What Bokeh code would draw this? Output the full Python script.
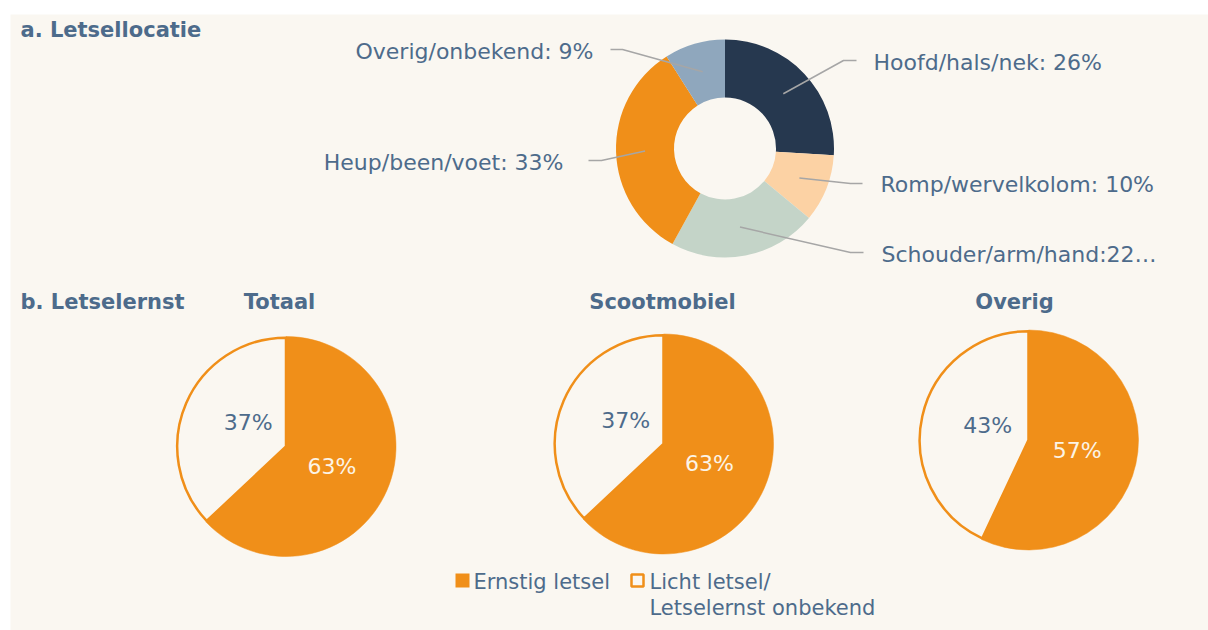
import math
from bokeh.plotting import figure
from bokeh.models import Range1d
from bokeh.core.properties import value
from bokeh.embed import file_html
from bokeh.resources import INLINE

# ---------------- data ----------------
loc_names = ["Hoofd/hals/nek", "Romp/wervelkolom", "Schouder/arm/hand", "Heup/been/voet", "Overig/onbekend"]
loc_pct = [26, 10, 22, 33, 9]
loc_labels = ["Hoofd/hals/nek: 26%", "Romp/wervelkolom: 10%", "Schouder/arm/hand:22\u2026",
              "Heup/been/voet: 33%", "Overig/onbekend: 9%"]
loc_colors = ["#26384f", "#fcd2a4", "#c4d4c8", "#f08f19", "#8fa7bd"]

groups = ["Totaal", "Scootmobiel", "Overig"]
ernstig = [63, 63, 57]
licht = [37, 37, 43]
legend_labels = ["Ernstig letsel", "Licht letsel/", "Letselernst onbekend"]

title_a = "a. Letsellocatie"
title_b = "b. Letselernst"

# ---------------- styles / layout ----------------
BG = "#faf7f1"
TXT = "#4d6b8b"
ORANGE = "#f08f19"
LEAD = "#a6a6a6"
FONT = value("DejaVu Sans")
FS = "22px"
FS_LEG = "21px"
FS_B = "21px"

W, H = 1208, 630
def Y(img_y):
    return 630 - img_y

p = figure(width=W, height=H, output_backend="svg", toolbar_location=None,
           x_range=Range1d(0, 1208), y_range=Range1d(0, 630), min_border=0)
p.axis.visible = False
p.grid.visible = False
p.outline_line_color = None
p.background_fill_color = "white"
p.border_fill_color = "white"

# cream panel
p.quad(left=10, right=1208, top=Y(14), bottom=Y(630), fill_color=BG, line_color=None)

# ---------------- donut ----------------
cx, cy = 724.5, 148
r_in, r_out = 51, 109
total = sum(loc_pct)
starts, ends, mids = [], [], []
cum = 0
for v in loc_pct:
    a0 = math.pi / 2 - 2 * math.pi * cum / total
    cum += v
    a1 = math.pi / 2 - 2 * math.pi * cum / total
    starts.append(a1)
    ends.append(a0)
    mids.append((a0 + a1) / 2)

p.annular_wedge(x=cx, y=Y(cy), inner_radius=r_in, outer_radius=r_out,
                start_angle=starts, end_angle=ends, direction="anticlock",
                fill_color=loc_colors, line_color=None)

# leader lines: elbow / end / label anchor (image coords)
elbows = [(843, 60), (850, 183), (850, 252), (601, 160), (622, 49)]
line_ends = [(856, 60), (862, 183), (863, 252), (588, 160), (610, 49)]
anchors = [(873, 62, "left"), (880, 184, "left"), (881, 254, "left"),
           (563, 162, "right"), (593, 51, "right")]
r_mid = (r_in + r_out) / 2
xs, ys = [], []
for m, e, f in zip(mids, elbows, line_ends):
    sx = cx + r_mid * math.cos(m)
    sy = Y(cy) + r_mid * math.sin(m)
    xs.append([sx, e[0], f[0]])
    ys.append([sy, Y(e[1]), Y(f[1])])
p.multi_line(xs=xs, ys=ys, line_color=LEAD, line_width=1.5)

for lab, (ax, ay, al) in zip(loc_labels, anchors):
    p.text(x=[ax], y=[Y(ay)], text=[lab], text_font=FONT, text_font_size=FS,
           text_color=TXT, text_align=al, text_baseline="middle")

# ---------------- section titles ----------------
p.text(x=[20], y=[Y(29)], text=[title_a], text_font=FONT, text_font_size=FS_B,
       text_font_style="bold", text_color=TXT, text_align="left", text_baseline="middle")
p.text(x=[20], y=[Y(301)], text=[title_b], text_font=FONT, text_font_size=FS_B,
       text_font_style="bold", text_color=TXT, text_align="left", text_baseline="middle")

# ---------------- three pies ----------------
pie_centers = [(285.5, 446), (663, 443.5), (1028, 439.5)]
pie_r = 110
title_x = [279, 662, 1014]
for g, e_val, l_val, (px, py), tx in zip(groups, ernstig, licht, pie_centers, title_x):
    tot = e_val + l_val
    a0 = math.pi / 2
    a1 = math.pi / 2 - 2 * math.pi * e_val / tot
    a2 = math.pi / 2 - 2 * math.pi
    # licht (hollow) slice
    p.wedge(x=px, y=Y(py), radius=pie_r - 1.2, start_angle=a2, end_angle=a1,
            direction="anticlock", fill_color=BG, line_color=ORANGE, line_width=2.5)
    # ernstig slice
    p.wedge(x=px, y=Y(py), radius=pie_r, start_angle=a1, end_angle=a0,
            direction="anticlock", fill_color=ORANGE, line_color=ORANGE, line_width=0.5)
    me = (a0 + a1) / 2
    ml = (a1 + a2) / 2
    rl = 50
    p.text(x=[px + rl * math.cos(me)], y=[Y(py) + rl * math.sin(me)], text=[f"{e_val}%"],
           text_font=FONT, text_font_size=FS, text_color="#fcf4e6",
           text_align="center", text_baseline="middle")
    p.text(x=[px + rl * math.cos(ml) + 8], y=[Y(py) + rl * math.sin(ml) + 4], text=[f"{l_val}%"],
           text_font=FONT, text_font_size=FS, text_color=TXT,
           text_align="center", text_baseline="middle")
    p.text(x=[tx], y=[Y(301)], text=[g], text_font=FONT, text_font_size=FS_B,
           text_font_style="bold", text_color=TXT, text_align="center", text_baseline="middle")

# ---------------- legend ----------------
p.rect(x=[462], y=[Y(580)], width=14, height=14, fill_color=ORANGE, line_color=None)
p.rect(x=[637], y=[Y(580)], width=12, height=12, fill_color=BG, line_color=ORANGE, line_width=2.5)
p.text(x=[473], y=[Y(581)], text=[legend_labels[0]], text_font=FONT, text_font_size=FS_LEG,
       text_color=TXT, text_align="left", text_baseline="middle")
p.text(x=[649], y=[Y(581)], text=[legend_labels[1]], text_font=FONT, text_font_size=FS_LEG,
       text_color=TXT, text_align="left", text_baseline="middle")
p.text(x=[649], y=[Y(607)], text=[legend_labels[2]], text_font=FONT, text_font_size=FS_LEG,
       text_color=TXT, text_align="left", text_baseline="middle")

open("out.html", "w").write(file_html(p, INLINE))
